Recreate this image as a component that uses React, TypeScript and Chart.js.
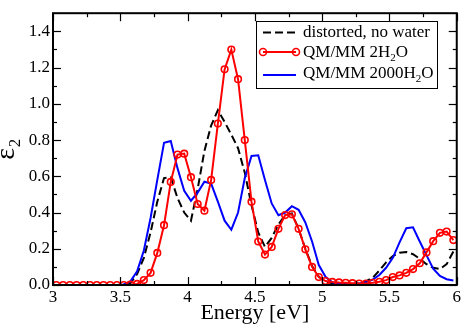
import React, { useEffect, useRef } from "react";
import { Chart, registerables } from "chart.js";

Chart.register(...registerables);

// Photon energies (eV) of the sampled spectrum
const energies = [
  3.025, 3.075, 3.125, 3.175, 3.225, 3.275, 3.325, 3.375, 3.425, 3.475,
  3.525, 3.575, 3.625, 3.675, 3.725, 3.775, 3.825, 3.875, 3.925, 3.975,
  4.025, 4.075, 4.125, 4.175, 4.225, 4.275, 4.325, 4.375, 4.425, 4.475,
  4.525, 4.575, 4.625, 4.675, 4.725, 4.775, 4.825, 4.875, 4.925, 4.975,
  5.025, 5.075, 5.125, 5.175, 5.225, 5.275, 5.325, 5.375, 5.425, 5.475,
  5.525, 5.575, 5.625, 5.675, 5.725, 5.775, 5.825, 5.875, 5.925, 5.975,
];

// distorted, no water
const noWater = [
  0, 0, 0, 0, 0, 0, 0, 0, 0, 0,
  0, 0.01, 0.06, 0.15, 0.29, 0.46, 0.59, 0.595, 0.48, 0.4,
  0.355, 0.53, 0.74, 0.88, 0.965, 0.9, 0.83, 0.755, 0.62, 0.44,
  0.29, 0.21, 0.26, 0.335, 0.385, 0.395, 0.31, 0.2, 0.105, 0.045,
  0.02, 0.01, 0.006, 0.005, 0.006, 0.01, 0.02, 0.04, 0.08, 0.125,
  0.16, 0.178, 0.182, 0.17, 0.145, 0.115, 0.095, 0.088, 0.115, 0.185,
];

// QM/MM 2H2O
const qmmm2 = [
  0, 0, 0, 0, 0, 0, 0, 0, 0, 0,
  0, 0.002, 0.006, 0.027, 0.067, 0.177, 0.33, 0.569, 0.72, 0.725,
  0.595, 0.447, 0.41, 0.58, 0.891, 1.19, 1.299, 1.136, 0.8, 0.46,
  0.24, 0.168, 0.21, 0.31, 0.386, 0.39, 0.31, 0.197, 0.1, 0.044,
  0.022, 0.017, 0.014, 0.012, 0.01, 0.008, 0.008, 0.012, 0.018, 0.027,
  0.044, 0.053, 0.067, 0.088, 0.12, 0.18, 0.242, 0.288, 0.295, 0.248,
];

// QM/MM 2000H2O
const qmmm2000 = [
  0, 0, 0, 0, 0, 0, 0, 0, 0, 0,
  0.003, 0.02, 0.075, 0.19, 0.37, 0.58, 0.785, 0.795, 0.645, 0.52,
  0.465, 0.51, 0.57, 0.56, 0.46, 0.355, 0.305, 0.4, 0.59, 0.712,
  0.716, 0.58, 0.45, 0.385, 0.4, 0.435, 0.415, 0.345, 0.24, 0.11,
  0.045, 0.015, 0.007, 0.004, 0.005, 0.008, 0.015, 0.03, 0.055, 0.095,
  0.15, 0.235, 0.313, 0.318, 0.24, 0.165, 0.09, 0.05, 0.032, 0.025,
];

const xMajorTicks = [3, 3.5, 4, 4.5, 5, 5.5, 6];
const xMinorTicks = [3.25, 3.75, 4.25, 4.75, 5.25, 5.75];
const yMajorTicks = [0, 0.2, 0.4, 0.6, 0.8, 1.0, 1.2, 1.4];
const yMinorTicks = [0.1, 0.3, 0.5, 0.7, 0.9, 1.1, 1.3];

const FONT = "'Liberation Serif', 'Times New Roman', serif";

const RED = "#ff0000";
const BLUE = "#0000ff";
const BLACK = "#000000";

function pts(ys: number[]) {
  return energies.map((x, i) => ({ x, y: ys[i] }));
}

const framePlugin = {
  id: "frameTicksLegend",
  afterDraw(chart: any) {
    const ctx: CanvasRenderingContext2D = chart.ctx;
    const { left, right, top, bottom } = chart.chartArea;
    const xs = chart.scales.x;
    const ys = chart.scales.y;
    ctx.save();
    ctx.strokeStyle = BLACK;
    ctx.lineWidth = 1.2;
    ctx.setLineDash([]);
    const seg = (x1: number, y1: number, x2: number, y2: number) => {
      ctx.beginPath();
      ctx.moveTo(x1, y1);
      ctx.lineTo(x2, y2);
      ctx.stroke();
    };
    const xt = (v: number, len: number) => {
      const p = Math.round(xs.getPixelForValue(v)) + 0.5;
      seg(p, bottom, p, bottom - len);
      seg(p, top, p, top + len);
    };
    const yt = (v: number, len: number) => {
      const p = Math.round(ys.getPixelForValue(v)) + 0.5;
      seg(left, p, left + len, p);
      seg(right, p, right - len, p);
    };
    xMajorTicks.forEach((v) => xt(v, 8));
    xMinorTicks.forEach((v) => xt(v, 4));
    yMajorTicks.forEach((v) => yt(v, 8));
    yMinorTicks.forEach((v) => yt(v, 4));

    ctx.lineWidth = 2;
    ctx.strokeRect(left, top, right - left, bottom - top);

    // legend box
    const bx = 256, by = 21, bw = 181, bh = 67;
    ctx.fillStyle = "#ffffff";
    ctx.fillRect(bx, by, bw, bh);
    ctx.lineWidth = 1;
    ctx.strokeStyle = BLACK;
    ctx.strokeRect(bx + 0.5, by + 0.5, bw, bh);

    const x1 = 263, x2 = 296, tx = 303;
    // row 1: dashed black
    ctx.lineWidth = 2;
    ctx.strokeStyle = BLACK;
    ctx.setLineDash([8, 4]);
    seg(x1, 32.5, x2, 32.5);
    ctx.setLineDash([]);
    // row 2: red with circles
    ctx.strokeStyle = RED;
    seg(x1, 52, x2, 52);
    ctx.lineWidth = 1.6;
    [x1, x2].forEach((cx) => {
      ctx.beginPath();
      ctx.arc(cx, 52, 3.5, 0, Math.PI * 2);
      ctx.stroke();
    });
    // row 3: blue
    ctx.lineWidth = 2;
    ctx.strokeStyle = BLUE;
    seg(x1, 75, x2, 75);

    ctx.fillStyle = BLACK;
    ctx.textBaseline = "alphabetic";
    ctx.textAlign = "left";
    const main = `17px ${FONT}`;
    const sub = `11px ${FONT}`;
    const drawParts = (parts: [string, boolean][], x: number, y: number) => {
      let cx = x;
      parts.forEach(([t, isSub]) => {
        ctx.font = isSub ? sub : main;
        ctx.fillText(t, cx, isSub ? y + 4 : y);
        cx += ctx.measureText(t).width;
      });
    };
    drawParts([["distorted, no water", false]], tx, 37);
    drawParts([["QM/MM 2H", false], ["2", true], ["O", false]], tx, 57);
    drawParts([["QM/MM 2000H", false], ["2", true], ["O", false]], tx, 78);
    ctx.restore();
  },
};

export default function App() {
  const ref = useRef<HTMLCanvasElement | null>(null);

  useEffect(() => {
    document.body.style.margin = "0";
    const canvas = ref.current;
    if (!canvas) return;
    const chart = new Chart(canvas, {
      type: "line",
      data: {
        datasets: [
          {
            label: "QM/MM 2H2O",
            data: pts(qmmm2),
            borderColor: RED,
            borderWidth: 2,
            pointRadius: 3.3,
            pointBorderWidth: 1.6,
            pointBorderColor: RED,
            pointBackgroundColor: "rgba(0,0,0,0)",
            pointStyle: "circle",
            tension: 0,
            fill: false,
          },
          {
            label: "QM/MM 2000H2O",
            data: pts(qmmm2000),
            borderColor: BLUE,
            borderWidth: 2,
            pointRadius: 0,
            tension: 0,
            fill: false,
          },
          {
            label: "distorted, no water",
            data: pts(noWater),
            borderColor: BLACK,
            borderWidth: 2,
            borderDash: [8, 4],
            pointRadius: 0,
            tension: 0,
            fill: false,
          },
        ],
      },
      options: {
        animation: false,
        responsive: false,
        devicePixelRatio: 1,
        layout: { padding: { top: 2, right: 5, left: 0, bottom: 0 } },
        plugins: {
          legend: { display: false },
          tooltip: { enabled: false },
        },
        scales: {
          x: {
            type: "linear",
            min: 3,
            max: 6,
            grid: { display: false, drawTicks: false },
            border: { display: false },
            afterBuildTicks: (s: any) => {
              s.ticks = xMajorTicks.map((v) => ({ value: v }));
            },
            afterFit: (s: any) => {
              s.height = 41;
            },
            ticks: {
              color: BLACK,
              padding: 2,
              maxRotation: 0,
              autoSkip: false,
              font: { family: FONT, size: 17 },
              callback: (v: any) => String(v),
            },
            title: {
              display: true,
              text: "Energy [eV]",
              color: BLACK,
              font: { family: FONT, size: 22, lineHeight: 1.2 },
              padding: { top: 0, bottom: 0 },
            },
          },
          y: {
            type: "linear",
            min: 0,
            max: 1.5,
            grid: { display: false, drawTicks: false },
            border: { display: false },
            afterBuildTicks: (s: any) => {
              s.ticks = yMajorTicks.map((v) => ({ value: v }));
            },
            afterFit: (s: any) => {
              s.width = 53;
            },
            ticks: {
              color: BLACK,
              padding: 3,
              autoSkip: false,
              font: { family: FONT, size: 17 },
              callback: (v: any) => Number(v).toFixed(1),
            },
            title: {
              display: true,
              text: "ε₂",
              color: BLACK,
              font: { family: FONT, size: 28, lineHeight: 0.45 },
              padding: { top: 0, bottom: 0 },
            },
          },
        },
      },
      plugins: [framePlugin],
    } as any);
    return () => chart.destroy();
  }, []);

  return (
    <canvas
      ref={ref}
      width={463}
      height={326}
      style={{ display: "block", width: 463, height: 326 }}
    />
  );
}
